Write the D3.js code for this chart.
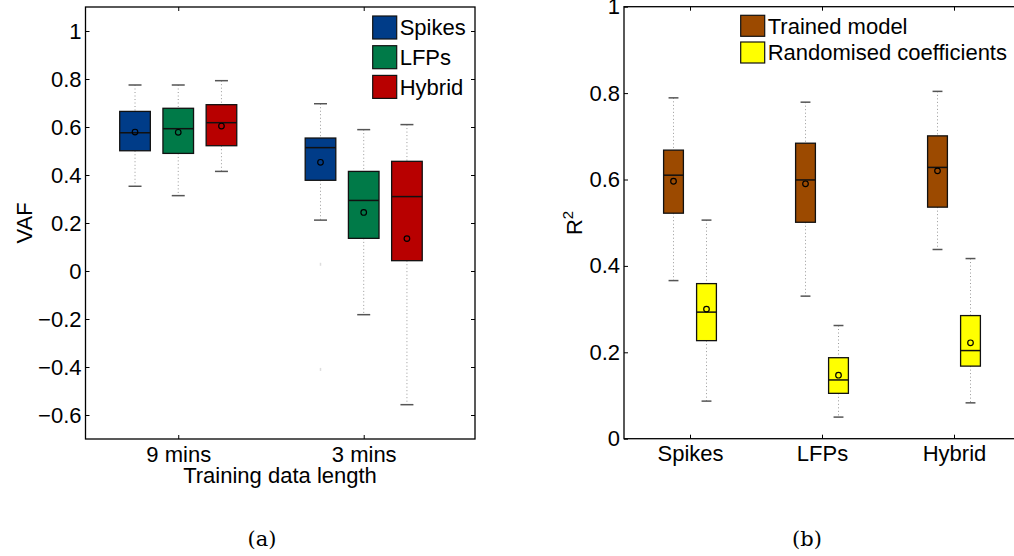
<!DOCTYPE html>
<html>
<head>
<meta charset="utf-8">
<script src="https://cdn.jsdelivr.net/npm/d3@7"></script>
<style>
  body { margin: 0; background: #fff; }
  svg text { font-family: "Liberation Sans", Arial, sans-serif; fill: #000; }
</style>
</head>
<body>
<svg id="chart" width="1014" height="556"></svg>
<script>
// ---- panel (a): VAF by training data length ----
const vafGroups = ['9 mins', '3 mins']
const vafSeries = ['Spikes', 'LFPs', 'Hybrid']
const vafColors = ['#003c88', '#007a48', '#b80000']
const vafTicks = [-0.6, -0.4, -0.2, 0, 0.2, 0.4, 0.6, 0.8, 1]
// [group][series]
const vafWhiskerHigh = [[0.775, 0.775, 0.793], [0.697, 0.589, 0.610]]
const vafQ3 = [[0.665, 0.678, 0.693], [0.554, 0.415, 0.457]]
const vafMedian = [[0.576, 0.593, 0.618], [0.514, 0.294, 0.310]]
const vafMean = [[0.579, 0.578, 0.604], [0.453, 0.244, 0.135]]
const vafQ1 = [[0.501, 0.490, 0.522], [0.378, 0.136, 0.043]]
const vafWhiskerLow = [[0.353, 0.314, 0.415], [0.212, -0.182, -0.557]]
const vafOutliers = [
  { group: 1, series: 0, value: 0.028 },
  { group: 1, series: 0, value: -0.41 }
]

// ---- panel (b): R^2 trained vs randomised ----
const r2Groups = ['Spikes', 'LFPs', 'Hybrid']
const r2Series = ['Trained model', 'Randomised coefficients']
const r2Colors = ['#9c4a00', '#ffff00']
const r2Ticks = [0, 0.2, 0.4, 0.6, 0.8, 1]
const r2WhiskerHigh = [[0.789, 0.506], [0.779, 0.262], [0.804, 0.417]]
const r2Q3 = [[0.668, 0.359], [0.684, 0.1875], [0.701, 0.285]]
const r2Median = [[0.610, 0.293], [0.599, 0.136], [0.628, 0.204]]
const r2Mean = [[0.596, 0.300], [0.590, 0.147], [0.620, 0.222]]
const r2Q1 = [[0.522, 0.227], [0.501, 0.105], [0.536, 0.168]]
const r2WhiskerLow = [[0.366, 0.087], [0.330, 0.050], [0.438, 0.083]]

const svg = d3.select('#chart')
const FONT = 22

function buildBoxes(groups, series, stats) {
  const out = []
  groups.forEach((g, gi) => {
    series.forEach((s, si) => {
      out.push({
        gi, si,
        hi: stats.hi[gi][si], q3: stats.q3[gi][si], med: stats.med[gi][si],
        mean: stats.mean[gi][si], q1: stats.q1[gi][si], lo: stats.lo[gi][si]
      })
    })
  })
  return out
}

function renderFrame(g, x, y, xTicks, yTicks, xLabels, yFormat) {
  const [x0, x1] = x.range()
  const [y0, y1] = y.range()

  const left = g.append('g').attr('transform', `translate(${x0},0)`)
    .call(d3.axisLeft(y).tickValues(yTicks).tickSize(-4).tickPadding(4).tickFormat(yFormat))
  const right = g.append('g').attr('transform', `translate(${x1},0)`)
    .call(d3.axisRight(y).tickValues(yTicks).tickSize(-4).tickFormat(''))
  const bottom = g.append('g').attr('transform', `translate(0,${y0})`)
    .call(d3.axisBottom(x).tickValues(xTicks).tickSize(-4).tickPadding(7).tickFormat((d, i) => xLabels[i]))
  const top = g.append('g').attr('transform', `translate(0,${y1})`)
    .call(d3.axisTop(x).tickValues(xTicks).tickSize(-4).tickFormat(''))

  ;[left, right, bottom, top].forEach(a => {
    a.select('.domain').remove()
    a.selectAll('line').attr('stroke', '#000').attr('stroke-width', 1)
    a.selectAll('text').attr('font-size', FONT).attr('font-family', '"Liberation Sans", Arial, sans-serif')
  })

  g.append('rect')
    .attr('x', x0).attr('y', y1)
    .attr('width', x1 - x0).attr('height', y0 - y1)
    .attr('fill', 'none').attr('stroke', '#000').attr('stroke-width', 1.3)
}

function renderBoxes(g, boxes, x, y, offsets, boxW, capW, colors) {
  const cx = d => x(d.gi + 1 + offsets[d.si])
  const half = boxW / 2

  const bg = g.selectAll('.box').data(boxes).enter().append('g').attr('class', 'box')

  // whiskers, dotted
  bg.append('line')
    .attr('x1', cx).attr('x2', cx)
    .attr('y1', d => y(d.hi)).attr('y2', d => y(d.q3))
    .attr('stroke', '#999').attr('stroke-width', 1).attr('stroke-dasharray', '1,2.5')
  bg.append('line')
    .attr('x1', cx).attr('x2', cx)
    .attr('y1', d => y(d.q1)).attr('y2', d => y(d.lo))
    .attr('stroke', '#999').attr('stroke-width', 1).attr('stroke-dasharray', '1,2.5')

  // caps
  ;['hi', 'lo'].forEach(k => {
    bg.append('line')
      .attr('x1', d => cx(d) - capW / 2).attr('x2', d => cx(d) + capW / 2)
      .attr('y1', d => y(d[k])).attr('y2', d => y(d[k]))
      .attr('stroke', '#555').attr('stroke-width', 1.5)
  })

  bg.append('rect')
    .attr('x', d => cx(d) - half)
    .attr('y', d => y(d.q3))
    .attr('width', boxW)
    .attr('height', d => y(d.q1) - y(d.q3))
    .attr('fill', d => colors[d.si])
    .attr('stroke', '#111').attr('stroke-width', 1.3)

  bg.append('line')
    .attr('x1', d => cx(d) - half).attr('x2', d => cx(d) + half)
    .attr('y1', d => y(d.med)).attr('y2', d => y(d.med))
    .attr('stroke', '#111').attr('stroke-width', 1.5)

  bg.append('circle')
    .attr('cx', cx).attr('cy', d => y(d.mean)).attr('r', 2.8)
    .attr('fill', 'none').attr('stroke', '#000').attr('stroke-width', 1.2)
}

function renderLegend(g, labels, colors, x0, y0, rowH, sw, sh) {
  const rows = g.selectAll('.leg').data(labels).enter().append('g')
    .attr('transform', (d, i) => `translate(${x0},${y0 + i * rowH})`)
  rows.append('rect')
    .attr('width', sw).attr('height', sh)
    .attr('fill', (d, i) => colors[i]).attr('stroke', '#111').attr('stroke-width', 1.2)
  rows.append('text')
    .attr('x', sw + 3).attr('y', sh / 2).attr('dy', '0.36em')
    .attr('font-size', FONT).text(d => d)
}

// ---------- panel (a) ----------
const gA = svg.append('g')
const xA = d3.scaleLinear().domain([0.5, 2.6]).range([85.5, 475])
const yA = d3.scaleLinear().domain([-0.7, 1.1]).range([439, 7])

renderFrame(gA, xA, yA, [1, 2], vafTicks, vafGroups, d => d3.format('')(d).replace('-', '\u2212'))

gA.selectAll('.outlier').data(vafOutliers).enter().append('line')
  .attr('x1', d => xA(d.group + 1 + (d.series - 1) * 0.233))
  .attr('x2', d => xA(d.group + 1 + (d.series - 1) * 0.233))
  .attr('y1', d => yA(d.value) - 1.5).attr('y2', d => yA(d.value) + 1.5)
  .attr('stroke', '#ddd').attr('stroke-width', 1.5)

renderBoxes(gA,
  buildBoxes(vafGroups, vafSeries, { hi: vafWhiskerHigh, q3: vafQ3, med: vafMedian, mean: vafMean, q1: vafQ1, lo: vafWhiskerLow }),
  xA, yA, [-0.233, 0, 0.233], xA(0.665) - xA(0.5), xA(0.57) - xA(0.5), vafColors)

renderLegend(gA, vafSeries, vafColors, 372.7, 16, 29.7, 24, 23)

gA.append('text')
  .attr('transform', 'translate(32,223) rotate(-90)')
  .attr('text-anchor', 'middle').attr('font-size', FONT).text('VAF')
gA.append('text')
  .attr('x', 280).attr('y', 483)
  .attr('text-anchor', 'middle').attr('font-size', FONT).text('Training data length')

// ---------- panel (b) ----------
const gB = svg.append('g')
const xB = d3.scaleLinear().domain([0.5, 3.5]).range([624, 1020])
const yB = d3.scaleLinear().domain([0, 1]).range([438.7, 6.7])

renderFrame(gB, xB, yB, [1, 2, 3], r2Ticks, r2Groups, d3.format(''))

renderBoxes(gB,
  buildBoxes(r2Groups, r2Series, { hi: r2WhiskerHigh, q3: r2Q3, med: r2Median, mean: r2Mean, q1: r2Q1, lo: r2WhiskerLow }),
  xB, yB, [-0.125, 0.125], xB(0.65) - xB(0.5), xB(0.575) - xB(0.5), r2Colors)

renderLegend(gB, r2Series, r2Colors, 740.7, 15.3, 26.7, 24, 21)

const r2Label = gB.append('text')
  .attr('transform', 'translate(582,223) rotate(-90)')
  .attr('text-anchor', 'middle').attr('font-size', FONT)
r2Label.append('tspan').text('R')
r2Label.append('tspan').attr('font-size', 15).attr('dy', -9).text('2')

// ---------- captions ----------
svg.selectAll('.caption').data([{ t: '(a)', x: 262 }, { t: '(b)', x: 807 }]).enter().append('text')
  .attr('x', d => d.x).attr('y', 546)
  .attr('text-anchor', 'middle')
  .attr('font-size', 21)
  .style('font-family', '"DejaVu Serif", serif')
  .text(d => d.t)
</script>
</body>
</html>
